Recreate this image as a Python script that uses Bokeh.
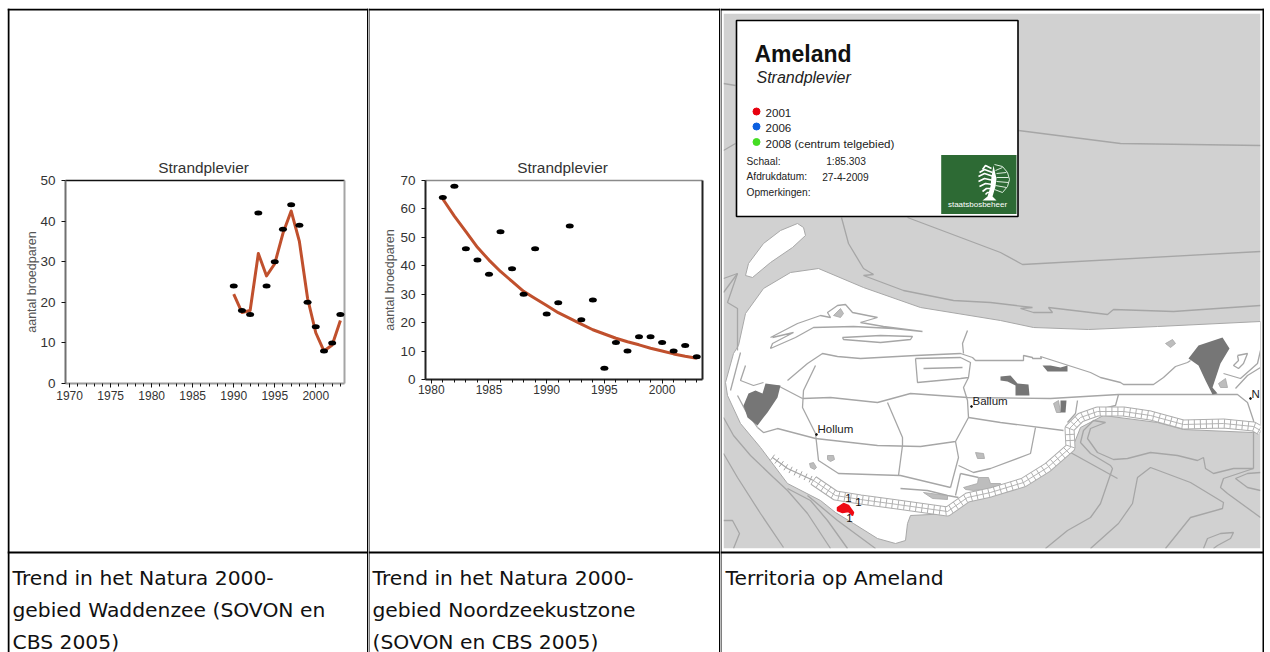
from bokeh.embed import file_html
from bokeh.resources import INLINE
from bokeh.plotting import figure
from bokeh.layouts import row
from bokeh.models import BoxAnnotation, Label, FixedTicker
from bokeh.core.properties import value
import numpy as np

# ---------- chart data ----------
years_a = list(range(1990, 2004))
counts_a = [24, 18, 17, 42, 24, 30, 38, 44, 39, 20, 14, 8, 10, 17]
trend_a = [22, 17.5, 18, 32, 26.5, 29.5, 37, 42.5, 35, 21, 12.5, 8, 9.5, 15.5]
years_b = list(range(1981, 2004))
counts_b = [64, 68, 46, 42, 37, 52, 39, 30, 46, 23, 27, 54, 21, 28, 4, 13, 10, 15, 15, 13, 10, 12, 8]
trend_b = [63.5, 57.5, 52, 46.5, 42, 38, 34.5, 31, 28.5, 26, 23.5, 21.5, 19.5, 17.5, 16, 14.5, 13.3,
           12.2, 11, 10, 9, 8.2, 7.5]
ticks_a_x = [1970, 1975, 1980, 1985, 1990, 1995, 2000]
ticks_a_y = [0, 10, 20, 30, 40, 50]
ticks_b_x = [1980, 1985, 1990, 1995, 2000]
ticks_b_y = [0, 10, 20, 30, 40, 50, 60, 70]
caption_a = ["Trend in het Natura 2000-", "gebied Waddenzee (SOVON en", "CBS 2005)"]
caption_b = ["Trend in het Natura 2000-", "gebied Noordzeekustzone", "(SOVON en CBS 2005)"]
caption_c = ["Territoria op Ameland"]

# ---------- map geometry (page pixels of the scanned map) ----------
island = [(745,313),(763,288),(790,272),(818,268),(863,287),(920,307),(1000,320),(1033,327),(1088,329),
          (1157,326),(1260,321),(1260,432),(1252,432),(1183,429),(1157,422),(1103,415),(1080,427),(1072,447),
          (1057,463),(1023,485),(990,495),(973,497),(950,513),(910,515),(907,523),(905,540),(895,543),(877,538),
          (853,523),(835,512),(820,500),(787,483),(760,447),(740,423),(727,395),(725,382),(733,353),(738,345)]
sandbank = [(797,223),(803,227),(805,235),(792,247),(770,262),(752,277),(745,275),(748,263),(763,243),(780,230)]
dark_areas = [
    [(765,383),(780,385),(777,397),(767,412),(763,417),(757,425),(747,417),(743,405),(748,393),(755,390),(762,393)],
    [(1000,376),(1010,375),(1017,383),(1028,384),(1029,395),(1015,395),(1015,385),(1007,381),(1000,380)],
    [(1042,365),(1050,365),(1060,367),(1067,365),(1067,371),(1047,371)],
    [(1060,400),(1066,400),(1065,412),(1060,412)],
    [(1188,358),(1198,345),(1222,337),(1229,348),(1220,363),(1212,387),(1217,393),(1212,394),(1205,380),(1198,365)],
]
light_areas = [
    [(833,315),(840,308),(843,313),(840,317)],
    [(1053,403),(1058,400),(1060,412),(1056,412)],
    [(1165,343),(1172,339),(1175,343),(1170,347)],
    [(1218,383),(1225,378),(1227,387),(1220,387)],
    [(963,487),(977,483),(978,477),(988,477),(990,483),(1000,483),(1003,487),(973,490),(965,489)],
    [(923,492),(947,495),(947,499),(932,498)],
    [(827,455),(833,455),(834,459),(830,461),(827,459)],
    [(809,463),(813,462),(816,467),(814,469),(810,467)],
    [(975,452),(983,453),(984,458),(977,458)],
]
sea_lines = [
    [(907,217),(1000,252),(1022,264),(1260,251)],
    [(841,217),(848,243),(863,268),(873,274),(863,275),(903,290),(953,300),(990,302),(1032,307),(1020,308),
     (1033,312),(1052,312),(1048,307),(1107,314),(1113,309),(1173,311),(1260,305)],
    [(1018,130),(1120,143),(1260,145)],
    [(723,83),(735,85)],
    [(723,150),(735,143)],
    [(723,278),(737,273),(727,302),(737,308),(737,350)],
    [(723,292),(737,273)],
    [(723,417),(733,435),(750,455),(773,477),(787,490),(807,513),(830,548)],
    [(723,453),(737,477),(760,513),(783,547)],
    [(787,488),(810,500),(827,520),(847,548)],
    [(807,495),(837,520),(875,548)],
    [(723,520),(732,520),(739,533),(733,548)],
    [(1105,422),(1093,420),(1083,430),(1080,442),(1090,453),(1110,465),(1112,468),(1100,503),(1090,517),(1067,530),(1045,548)],
    [(1105,422),(1090,428),(1087,438),(1097,452),(1113,459),(1127,458),(1150,452),(1177,455),(1197,460),(1203,457),(1205,468),(1213,473),(1233,468),(1253,468)],
    [(1070,452),(1117,478)],
    [(1090,548),(1118,523),(1132,503),(1137,477),(1150,467),(1190,482),(1223,502),(1222,508),(1190,517),(1165,548)],
    [(1260,517),(1227,493),(1220,487),(1223,478),(1253,468)],
    [(1260,490),(1247,487),(1235,478),(1247,473),(1260,472)],
    [(1203,548),(1207,538),(1220,533),(1233,532),(1230,538),(1217,545),(1213,548)],
    [(1253,432),(1253,468)],
]
land_lines = [
    [(770,337),(797,323),(820,315),(830,317),(827,312),(837,305),(845,304),(852,312),(877,317),(860,322),(883,326),
     (922,331),(893,328),(853,326),(813,327),(795,337),(770,348),(772,343),(793,332),(772,337)],
    [(842,337),(880,335),(912,336),(910,339),(880,342),(843,339),(842,337)],
    [(787,380),(807,363),(822,353),(837,356),(860,358),(915,355),(960,353),(972,357),(975,360),(1023,360),(1023,355),
     (1032,357),(1032,358),(1041,358),(1040,356),(1090,372),(1100,377),(1120,382),(1123,384),(1153,384),(1163,377),
     (1175,366),(1187,362),(1190,360)],
    [(915,358),(960,357),(970,362),(968,377),(960,378),(917,382),(915,358)],
    [(923,368),(962,367)],
    [(967,330),(962,343),(963,353)],
    [(802,398),(830,397),(877,402),(910,393),(967,397),(1050,398),(1118,394),(1237,394),(1247,402),(1253,420),(1253,432)],
    [(777,385),(802,398)],
    [(745,365),(740,380),(753,385),(763,382)],
    [(740,352),(730,390)],
    [(815,365),(803,390),(802,407),(815,433),(818,460),(838,473),(900,475),(950,487)],
    [(757,427),(763,432),(777,428),(815,438),(877,445),(920,446),(955,441),(968,417),(967,400),(963,387),(968,377)],
    [(887,402),(902,437),(902,445),(898,475)],
    [(955,441),(958,457),(950,487)],
    [(968,417),(1000,422),(1063,430)],
    [(1035,427),(1030,453),(990,468),(973,472),(958,465)],
    [(1077,400),(1075,413),(1067,422)],
    [(1118,394),(1115,405),(1103,408)],
    [(960,473),(955,495)],
    [(960,473),(978,477)],
    [(900,488),(927,490),(947,495),(958,497)],
    [(1237,355),(1247,353),(1243,363),(1238,368),(1233,365),(1238,360),(1237,355)],
    [(1223,373),(1240,378),(1257,363),(1260,350)],
    [(1235,388),(1247,375),(1260,367)],
    [(757,427),(745,410),(737,395)],
]
dike_main = [(813,480),(835,495),(860,499),(897,504),(947,511),(967,497),(990,492),(1023,482),(1047,467),(1070,447),
             (1069,428),(1080,417),(1097,411),(1123,411),(1150,415),(1183,424),(1223,423),(1253,426),(1260,430)]
dike_west = [(772,457),(787,468),(813,480)]
red_blob = [(837,507),(843,503),(848,505),(853,512),(852,515),(848,511),(842,512),(837,510)]
count_labels = [(848,497,"1"),(858,501,"1"),(849,517,"1")]
place_labels = [(817,428,"Hollum"),(972,400,"Ballum"),(1251,393,"N")]
place_dots = [(816,434),(971,406),(1250,398)]
legend_years = ["2001", "2006", "2008 (centrum telgebied)"]
legend_colors = ["#e8000e", "#0b5fe0", "#44dd22"]
tree_left = [[(991,168),(985,165),(982,169)],[(992,172),(984,169),(979,172)],[(993,176),(984,173),(978,176)],
             [(993,180),(984,178),(978,181)],[(992,184),(985,183),(979,186)],[(991,188),(986,188),(982,191)],
             [(990,192),(987,192),(985,194)]]
tree_right = [[(995,170),(1002,167)],[(996,173),(1006,172)],[(996,177),(1008,177)],[(996,181),(1008,182)],
              [(995,185),(1006,187)],[(994,189),(1002,192)],
              [(994,164),(1002,166),(1007,172),(1009,179),(1007,186),(1002,192)]]
tree_stem = [(993,165),(996,178),(995,186),(992,196),(996,200),(982,200),(987,196),(990,186),(991,176)]

BLACK = "#000000"
FONT = "Liberation Sans"
CAPTION_FONT = "DejaVu Sans"
TOP = 8
HEIGHT = 644


def box(p, origin, l, r, t, b):
    p.add_layout(BoxAnnotation(left=l - origin, right=r - origin, top=t - TOP, bottom=b - TOP,
                               left_units="canvas", right_units="canvas", top_units="canvas", bottom_units="canvas",
                               fill_color=BLACK, fill_alpha=1, line_color=None, level="overlay", editable=False))


def caption(p, origin, x, lines):
    for i, s in enumerate(lines):
        p.add_layout(Label(x=x - origin, y=577 + 32 * i - TOP, x_units="canvas", y_units="canvas", text=s,
                           text_font=CAPTION_FONT, text_font_size="20.3px", text_color="#111111",
                           text_baseline="middle"))


def chart(origin, width, frame, xlim, ylim, xt, yt, xs, ys, ts, frame_cols, label_standoff, xlabel_standoff):
    """The plot area fills the whole cell; the ranges are chosen so that xlim/ylim land on the drawn chart frame."""
    l, r, t, b = frame
    kx = (xlim[1] - xlim[0]) / (r - l)
    ky = (ylim[1] - ylim[0]) / (b - t)
    xr = (xlim[0] - (l - origin) * kx, xlim[1] + (origin + width - r) * kx)
    yr = (ylim[0] - (TOP + HEIGHT - b) * ky, ylim[1] + (t - TOP) * ky)
    p = figure(width=width, height=HEIGHT, x_range=xr, y_range=yr, output_backend="svg", toolbar_location=None,
               min_border=0, background_fill_color="white", border_fill_color="white",
               outline_line_color=None, frame_align=False)
    p.grid.visible = False
    ax = p.xaxis[0]
    ax.fixed_location = ylim[0]
    ax.bounds = xlim
    ax.ticker = FixedTicker(ticks=xt, minor_ticks=list(range(xt[0], 2004)))
    ay = p.yaxis[0]
    ay.fixed_location = xlim[0]
    ay.bounds = ylim
    ay.ticker = FixedTicker(ticks=yt)
    ay.axis_label = "aantal broedparen"
    ay.axis_label_text_font = FONT
    ay.axis_label_text_font_size = "12.5px"
    ay.axis_label_text_font_style = "normal"
    ay.axis_label_text_color = "#555555"
    ay.axis_label_standoff = label_standoff
    for a, size in ((ax, "12px"), (ay, "13.5px")):
        a.major_label_text_font = FONT
        a.major_label_text_font_size = size
        a.major_label_text_color = "#333333"
        a.axis_line_color = None
        a.major_tick_line_color = "#111111"
        a.major_tick_in = 0
        a.major_tick_out = 4
        a.minor_tick_line_color = "#111111"
        a.minor_tick_in = 0
        a.minor_tick_out = 3
    ay.minor_tick_line_color = None
    ax.major_label_standoff = xlabel_standoff
    ay.major_label_standoff = 6
    top_c, right_c, bottom_c, left_c = frame_cols
    p.line(xlim, [ylim[1]] * 2, line_color=top_c, line_width=1.5)
    p.line(xlim, [ylim[0]] * 2, line_color=bottom_c, line_width=2)
    p.line([xlim[0]] * 2, ylim, line_color=left_c, line_width=2)
    p.line([xlim[1]] * 2, ylim, line_color=right_c, line_width=2)
    p.line(xs, ts, line_color="#c0502d", line_width=3, line_join="round")
    p.ellipse(xs, ys, width=8, height=5, width_units="screen", height_units="screen", fill_color=BLACK, line_color=None)
    p.add_layout(Label(x=(l + r) / 2 - 1.5 - origin, y=167 - TOP, x_units="canvas", y_units="canvas", text="Strandplevier",
                       text_font=FONT, text_font_size="15.4px", text_color="#333333", text_align="center",
                       text_baseline="middle"))
    return p


# ---------- left cell ----------
p1 = chart(7, 361, (65, 344, 180, 383), (1969.5, 2003.5), (0, 50), ticks_a_x, ticks_a_y,
           years_a, counts_a, trend_a, ("#111111", "#a5a5a5", "#9a9a9a", "#707070"), -2, 3)
box(p1, 7, 7, 9, 8, 660)
box(p1, 7, 7, 368, 8, 10)
box(p1, 7, 7, 368, 551, 553)
box(p1, 7, 366.5, 368, 8, 660)
caption(p1, 7, 12, caption_a)

# ---------- middle cell ----------
p2 = chart(368, 352, (425, 702, 180, 379), (1979.5, 2003.5), (0, 70), ticks_b_x, ticks_b_y,
           years_b, counts_b, trend_b, ("#8a8a8a", "#222222", "#222222", "#222222"), 0, 1)
box(p2, 368, 368, 369, 8, 660)
box(p2, 368, 368, 720, 8, 10)
box(p2, 368, 368, 720, 551, 553)
box(p2, 368, 718.5, 720, 8, 660)
caption(p2, 368, 372, caption_b)

# ---------- right cell: the map ----------
p3 = figure(width=544, height=HEIGHT, x_range=(720, 1264), y_range=(652, 8), output_backend="svg", toolbar_location=None,
            x_axis_type=None, y_axis_type=None, min_border=0, outline_line_color=None,
            background_fill_color="white", border_fill_color="white", frame_align=False)
p3.grid.visible = False


def polys(fig, shapes, **kw):
    fig.patches([[q[0] for q in s] for s in shapes], [[q[1] for q in s] for s in shapes], **kw)


def lines(fig, shapes, **kw):
    fig.multi_line([[q[0] for q in s] for s in shapes], [[q[1] for q in s] for s in shapes], **kw)


def ties(path, spacing, half):
    pts = np.array(path, dtype=float)
    seg = np.hypot(*np.diff(pts, axis=0).T)
    pos = np.concatenate([[0], np.cumsum(seg)])
    at = np.arange(0, pos[-1], spacing)
    x, y = np.interp(at, pos, pts[:, 0]), np.interp(at, pos, pts[:, 1])
    dx, dy = np.gradient(x), np.gradient(y)
    n = np.hypot(dx, dy)
    nx, ny = -dy / n * half, dx / n * half
    return [[(a - c, b - d), (a + c, b + d)] for a, b, c, d in zip(x, y, nx, ny)]


p3.quad(left=723, right=1260, top=13, bottom=548, fill_color="#d1d1d1", line_color=None)
polys(p3, [island, sandbank], fill_color="white", line_color="#a8a8a8", line_width=1)
lines(p3, sea_lines, line_color="#a6a6a6", line_width=1.3)
lines(p3, land_lines, line_color="#a6a6a6", line_width=1.3)
polys(p3, light_areas, fill_color="#bdbdbd", line_color="#a6a6a6", line_width=0.8)
polys(p3, dark_areas, fill_color="#767676", line_color=None)
lines(p3, [dike_main], line_color="#adadad", line_width=10, line_join="round")
lines(p3, [dike_main], line_color="white", line_width=8, line_join="round")
lines(p3, [dike_main], line_color="#b5b5b5", line_width=1, line_join="round")
lines(p3, ties(dike_main, 6, 4.5), line_color="#b0b0b0", line_width=1)
lines(p3, [dike_west], line_color="#a6a6a6", line_width=1.2)
lines(p3, ties(dike_west, 5.5, 3.5), line_color="#a6a6a6", line_width=1)
polys(p3, [red_blob], fill_color="#ee0a14", line_color="#ee0a14", line_width=1.5)
p3.text([q[0] for q in count_labels], [q[1] for q in count_labels], [q[2] for q in count_labels],
        text_font=value(FONT), text_font_size="11.5px", text_color="#111111", text_align="center", text_baseline="middle")
p3.text([q[0] for q in place_labels], [q[1] for q in place_labels], [q[2] for q in place_labels],
        text_font=value(FONT), text_font_size="11.5px", text_color="#222222", text_baseline="middle")
p3.scatter([q[0] for q in place_dots], [q[1] for q in place_dots], size=1.8, color="#111111")

# white margin round the map image, then the table rules
for l_, r_, t_, b_ in ((720, 723, 8, 552), (1260, 1264, 8, 552), (720, 1264, 8, 13), (720, 1264, 548, 552)):
    p3.quad(left=l_, right=r_, top=t_, bottom=b_, fill_color="white", line_color=None)
for l_, r_, t_, b_ in ((720, 721, 8, 660), (1262, 1264, 8, 660), (720, 1264, 8, 10), (720, 1264, 551, 553)):
    p3.quad(left=l_, right=r_, top=t_, bottom=b_, fill_color=BLACK, line_color=None)

# legend panel
p3.quad(left=736, right=1017.5, top=20, bottom=216, fill_color="white", line_color=BLACK, line_width=1.6)
p3.text([754], [53], ["Ameland"], text_font=value(FONT), text_font_style="bold", text_font_size="23px",
        text_color="#111111", text_baseline="alphabetic")
p3.text([756], [77], ["Strandplevier"], text_font=value(FONT), text_font_style="italic", text_font_size="16px",
        text_color="#222222", text_baseline="alphabetic")
p3.scatter([756, 756, 756], [111, 126, 141.5], size=7, color=legend_colors)
p3.text([765, 765, 765], [112, 127, 142.5], legend_years, text_font=value(FONT), text_font_size="11.6px",
        text_color="#222222", text_baseline="middle")
p3.text([746, 746, 746, 825.7, 821.7], [161, 176, 192, 161, 176],
        ["Schaal:", "Afdrukdatum:", "Opmerkingen:", "1:85.303", "27-4-2009"], text_font=value(FONT),
        text_font_size="10.2px", text_color="#222222", text_baseline="middle")
p3.quad(left=940.7, right=1016, top=154.5, bottom=213.5, fill_color="#2d6a34", line_color=None)
lines(p3, tree_left, line_color="white", line_width=1.6)
lines(p3, tree_right, line_color="#dfeee0", line_width=1)
polys(p3, [tree_stem], fill_color="white", line_color=None)
p3.text([977], [204], ["staatsbosbeheer"], text_font=value(FONT), text_font_size="8px", text_color="white",
        text_align="center", text_baseline="middle")

caption(p3, 720, 725, caption_c)

page = row(p1, p2, p3, spacing=0, margin=(8, 0, 0, 7))
open("out.html", "w").write(file_html(page, INLINE))
